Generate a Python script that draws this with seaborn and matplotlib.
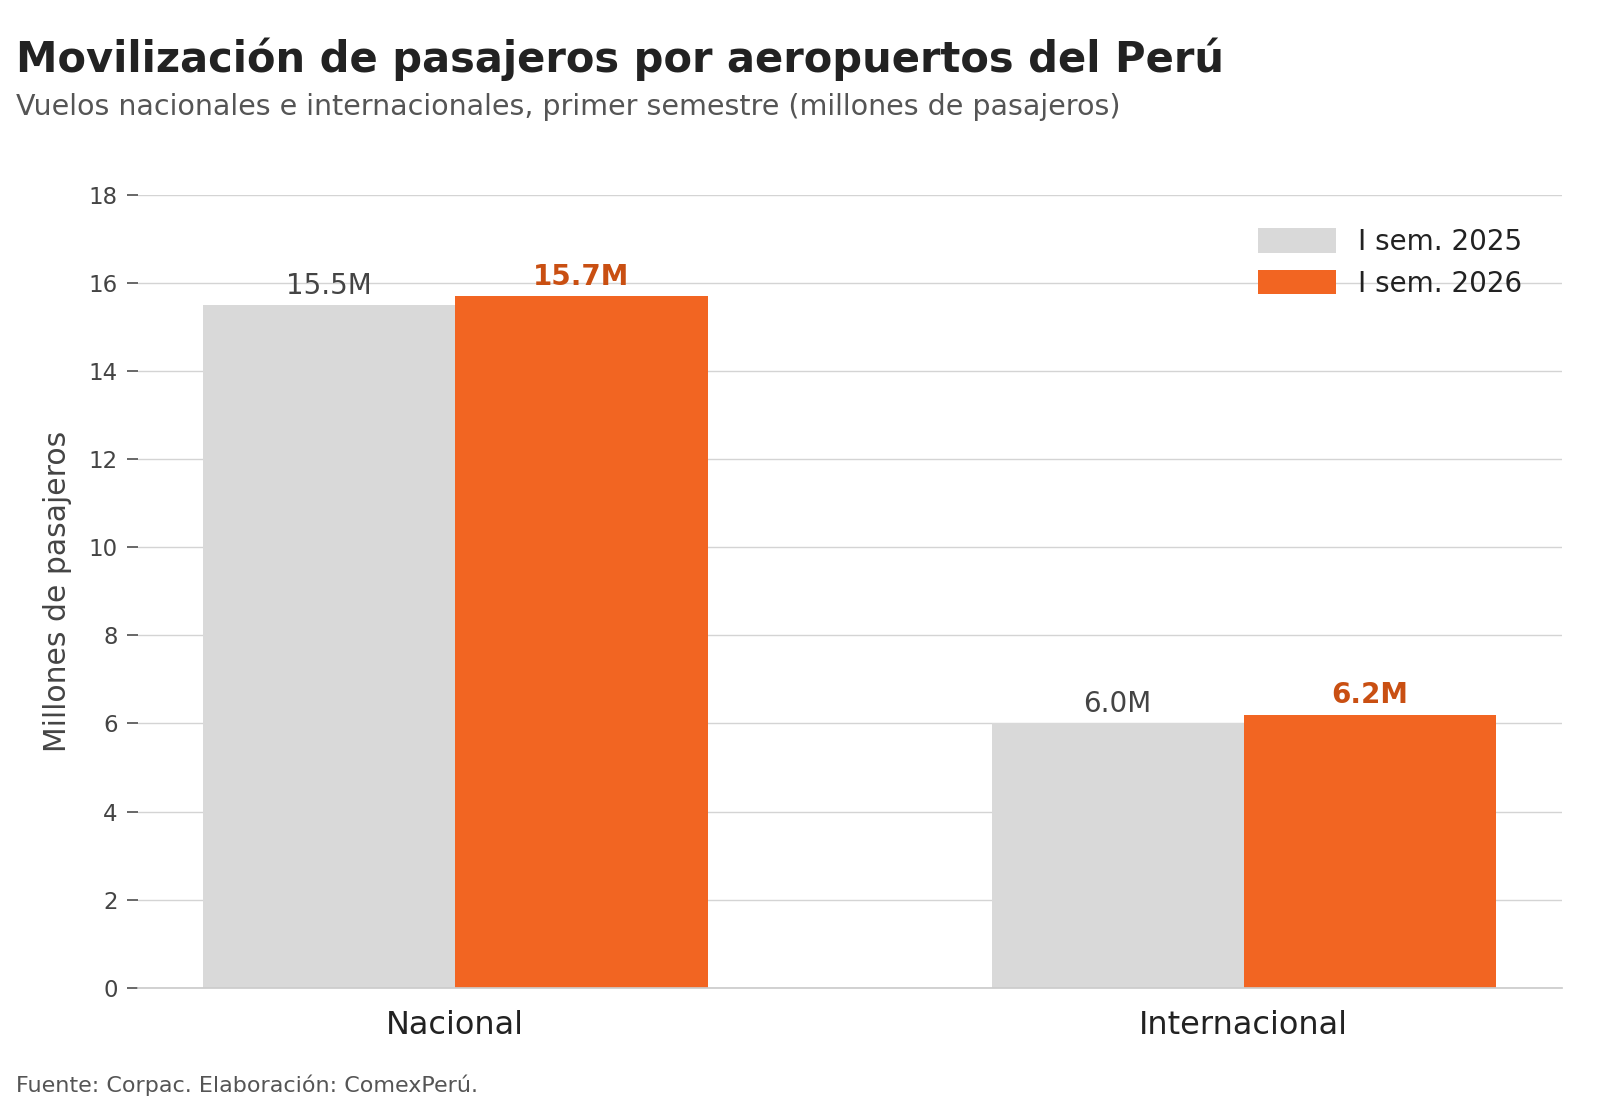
import pandas as pd
import matplotlib.pyplot as plt
import seaborn as sns

# data
categorias = ['Nacional', 'Internacional']
periodos = ['I sem. 2025', 'I sem. 2026']
valores_2025 = [15.5, 6.0]
valores_2026 = [15.7, 6.2]

df = pd.DataFrame({
    'categoria': categorias * 2,
    'periodo': [periodos[0]] * 2 + [periodos[1]] * 2,
    'valor': valores_2025 + valores_2026,
})

sns.set_theme(style='white')
plt.rcParams['font.family'] = ['DejaVu Sans']

fig = plt.figure(figsize=(16, 11), dpi=100)
ax = fig.add_axes([0.0865, 0.102, 0.8895, 0.721])

colores = {periodos[0]: '#d9d9d9', periodos[1]: '#f26522'}
sns.barplot(data=df, x='categoria', y='valor', hue='periodo', palette=colores,
            width=0.64, saturation=1, linewidth=0, ax=ax, zorder=2)

ax.set_ylim(0, 18)
ax.set_xlim(-0.402, 1.403)
ax.set_yticks(range(0, 19, 2))
ax.yaxis.grid(True, color='#d4d4d4', linewidth=1, zorder=0)
ax.set_axisbelow(True)
for s in ['top', 'right', 'left']:
    ax.spines[s].set_visible(False)
ax.spines['bottom'].set_color('#cccccc')
ax.tick_params(axis='y', left=True, length=8, color='#555555', labelsize=16.5,
               labelcolor='#444444', pad=7)
ax.tick_params(axis='x', labelsize=23, labelcolor='#222222', bottom=False, pad=10)
ax.set_xlabel('')
ax.set_ylabel('Millones de pasajeros', fontsize=21.5, color='#444444', labelpad=12)

# etiquetas
for i, cont in enumerate(ax.containers):
    for bar in cont:
        h = bar.get_height()
        if i == 0:
            ax.text(bar.get_x() + bar.get_width() / 2, h + 0.12, f'{h:.1f}M',
                    ha='center', va='bottom', fontsize=20, color='#444444')
        else:
            ax.text(bar.get_x() + bar.get_width() / 2, h + 0.12, f'{h:.1f}M',
                    ha='center', va='bottom', fontsize=20, color='#c94f12',
                    fontweight='bold')

leg = ax.legend(loc='upper right', frameon=False, fontsize=20, handlelength=2.8,
                handleheight=1.0, bbox_to_anchor=(0.99, 0.99))
for t in leg.get_texts():
    t.set_color('#222222')

fig.text(0.01, 0.946, 'Movilización de pasajeros por aeropuertos del Perú',
         fontsize=30, fontweight='bold', color='#222222', va='center')
fig.text(0.01, 0.903, 'Vuelos nacionales e internacionales, primer semestre (millones de pasajeros)',
         fontsize=20.5, color='#555555', va='center')
fig.text(0.01, 0.013, 'Fuente: Corpac. Elaboración: ComexPerú.',
         fontsize=16, color='#555555', va='center')

fig.savefig('out.png', dpi=100)
